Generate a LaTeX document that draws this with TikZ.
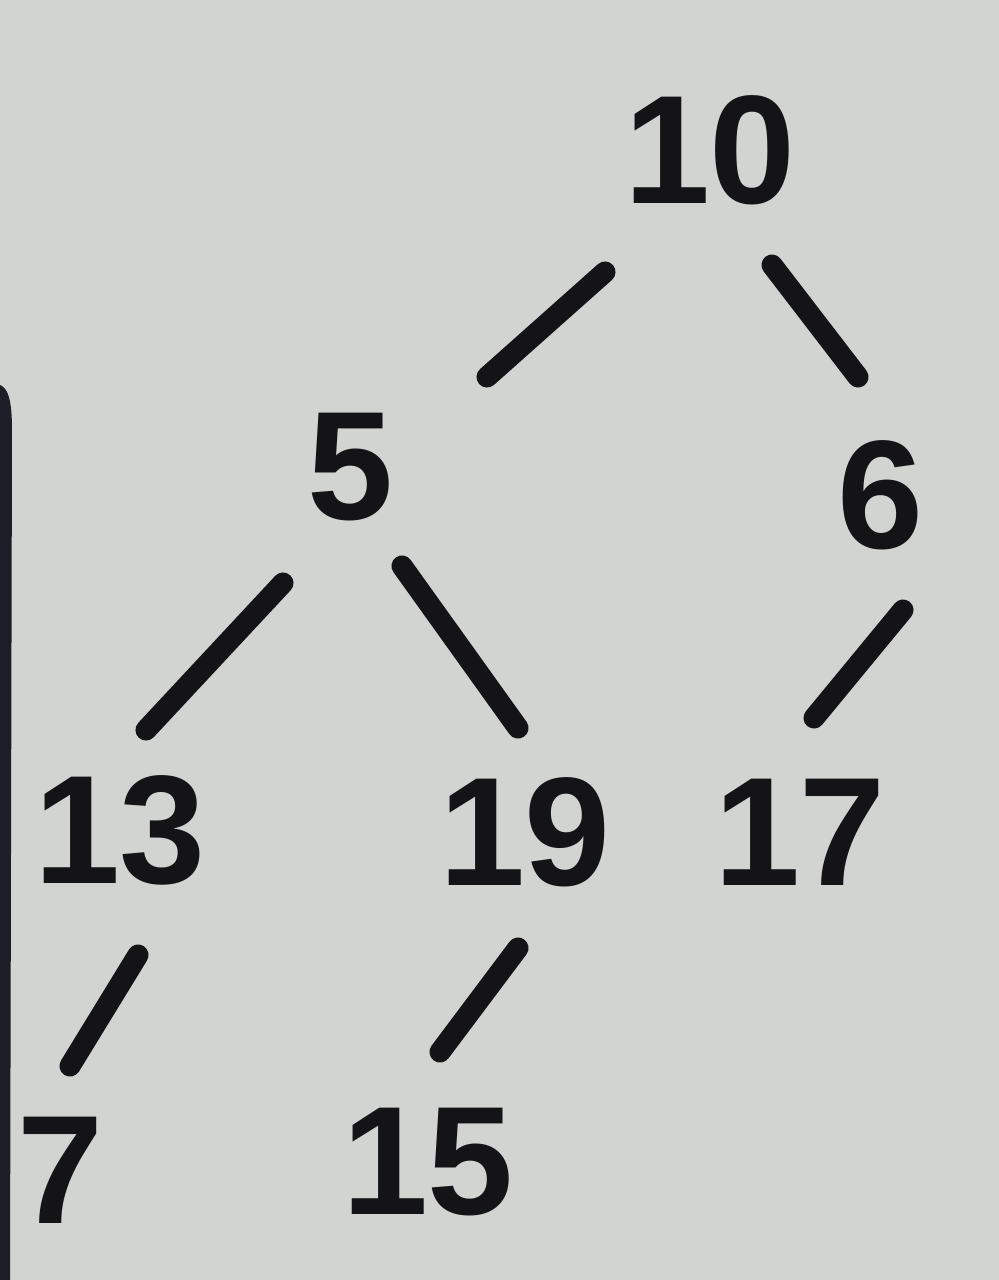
\documentclass[tikz,border=0pt]{standalone}
\usepackage{fontspec}
\setmainfont{Liberation Sans}
\usetikzlibrary{calc}
\definecolor{paper}{RGB}{210,212,209}
\definecolor{ink}{RGB}{20,20,22}
\definecolor{strip}{RGB}{28,30,38}
\tikzset{
  num/.style={inner sep=0pt, text=ink, font=\bfseries\fontsize{88}{88}\selectfont},
  edge/.style={draw=ink, line width=12pt, line cap=round}
}
\begin{document}
\begin{tikzpicture}[x=0.02cm, y=-0.02cm]
\fill[paper] (0,0) rectangle (999,1280);
\useasboundingbox (0,0) rectangle (999,1280);
\fill[strip] (0,385) .. controls (8,388) and (12,400) .. (12,430) -- (10,1280) -- (0,1280) -- cycle;

\node[num] (n10) at (710,150) {10};
\node[num] (n5)  at (350,467) {5};
\node[num] (n6)  at (880,495) {6};
\node[num] (n13) at (120,830) {13};
\node[num] (n19) at (525,832) {19};
\node[num] (n17) at (800,832) {17};
\node[num] (n7)  at (60,1170) {7};
\node[num] (n15) at (428,1162) {15};

\draw[edge] ($(n10)+(-105,122)$) -- ($(n5)+(137,-90)$);
\draw[edge] ($(n10)+(62,115)$) -- ($(n6)+(-22,-118)$);
\draw[edge] ($(n5)+(-67,116)$) -- ($(n13)+(26,-100)$);
\draw[edge] ($(n5)+(52,99)$) -- ($(n19)+(-7,-104)$);
\draw[edge] ($(n6)+(23,115)$) -- ($(n17)+(14,-114)$);
\draw[edge] ($(n13)+(18,125)$) -- ($(n7)+(10,-104)$);
\draw[edge] ($(n19)+(-7,116)$) -- ($(n15)+(12,-110)$);
\end{tikzpicture}
\end{document}
